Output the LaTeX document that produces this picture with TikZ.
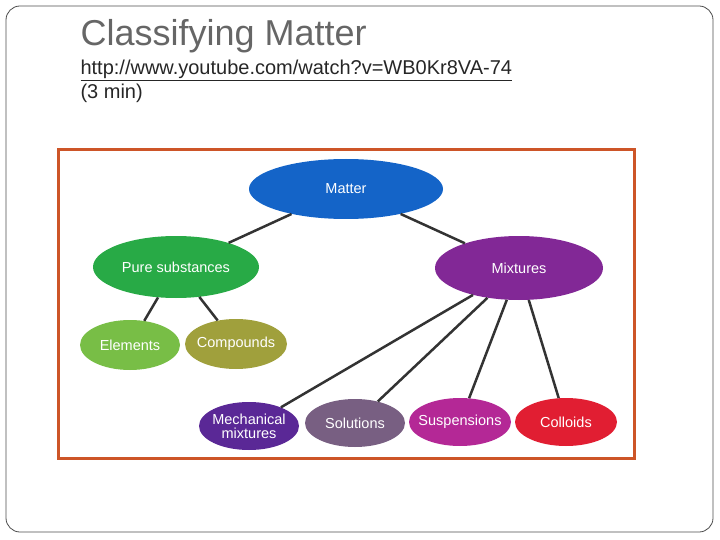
\documentclass[tikz,border=0pt]{standalone}
\usepackage{fontspec}
\setmainfont{Liberation Sans}
\usetikzlibrary{shapes.geometric}
\begin{document}
\begin{tikzpicture}[x=1pt,y=-1pt,
  ell/.style={ellipse,minimum width=#1,text=white,font=\fontsize{14.5}{14}\selectfont,inner xsep=-8pt,inner ysep=0pt,align=center},
  conn/.style={draw=black!80,line width=2.5pt}]
\useasboundingbox (0,0) rectangle (720,540);
\draw[rounded corners=14pt,black!70,line width=0.8pt] (6,6) rectangle (713,532);
\node[anchor=west,font=\fontsize{36}{38}\selectfont,text=black!60] (title) at (77,36) {Classifying Matter};
\node[anchor=west,font=\fontsize{20}{20}\selectfont,text=black!85] (link) at (77,70) {\underline{http://www.youtube.com/watch?v=WB0Kr8VA-74}};
\node[anchor=west,font=\fontsize{20}{20}\selectfont,text=black!85] (dur) at (77,93) {(3 min)};
\draw[line width=3pt,color={rgb,255:red,205;green,85;blue,40}] (58,150) rectangle (634,458);
\node[ell=194pt,minimum height=60pt,fill={rgb,255:red,20;green,100;blue,200}] (matter) at (346,189) {Matter};
\node[ell=166pt,minimum height=62pt,fill={rgb,255:red,40;green,170;blue,70}] (pure) at (176,267) {Pure substances};
\node[ell=168pt,minimum height=64pt,fill={rgb,255:red,130;green,40;blue,150}] (mix) at (519,268) {Mixtures};
\node[ell=100pt,minimum height=50pt,fill={rgb,255:red,120;green,190;blue,70}] (el) at (130,345) {Elements};
\node[ell=102pt,minimum height=50pt,fill={rgb,255:red,160;green,160;blue,60}] (comp) at (236,344) {Compounds};
\node[ell=100pt,minimum height=48pt,fill={rgb,255:red,90;green,40;blue,150}] (mech) at (249,426) {Mechanical\\mixtures};
\node[ell=100pt,minimum height=48pt,fill={rgb,255:red,120;green,95;blue,130}] (sol) at (355,423) {Solutions};
\node[ell=102pt,minimum height=48pt,fill={rgb,255:red,180;green,40;blue,150}] (sus) at (460,422) {Suspensions};
\node[ell=102pt,minimum height=48pt,fill={rgb,255:red,225;green,30;blue,50}] (col) at (566,422) {Colloids};
\draw[conn] (matter) -- (pure);
\draw[conn] (matter) -- (mix);
\draw[conn] (pure) -- (el);
\draw[conn] (pure) -- (comp);
\draw[conn] (mix) -- (mech);
\draw[conn] (mix) -- (sol);
\draw[conn] (mix) -- (sus);
\draw[conn] (mix) -- (col);
\end{tikzpicture}
\end{document}
